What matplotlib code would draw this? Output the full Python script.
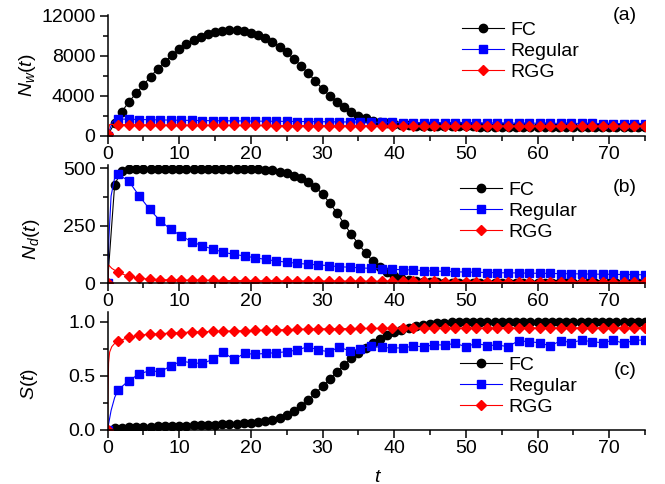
import numpy as np
import matplotlib
matplotlib.use("Agg")
import matplotlib.pyplot as plt
from matplotlib.ticker import MultipleLocator

plt.rcParams['font.family'] = ['Liberation Sans', 'DejaVu Sans']
plt.rcParams['mathtext.fontset'] = 'custom'
plt.rcParams['mathtext.it'] = 'Liberation Sans:italic'
plt.rcParams['mathtext.rm'] = 'Liberation Sans'

# ---------------- data ----------------
# FC: markers at t = 1..75, line starts at t = 0
t_fc = list(range(0, 76))
fc_nw = [0, 1330, 2430, 3430, 4270, 5100, 5930, 6730, 7430, 8100, 8670,
         9170, 9600, 9930, 10200, 10400, 10530, 10600, 10600, 10500, 10330,
         10100, 9770, 9430, 8930, 8370, 7700, 7030, 6270, 5500, 4700,
         4030, 3430, 2870, 2430, 2000, 1770, 1530, 1370, 1270, 1180,
         1110, 1060, 1030, 1000, 990, 980, 975, 970, 965, 960,
         955, 950, 950, 945, 945, 940, 940, 935, 935, 930,
         930, 930, 925, 925, 925, 920, 920, 920, 920, 915,
         915, 915, 915, 910, 910]
fc_nd = [0, 430, 490, 497, 498, 498, 498, 498, 498, 498, 498,
         498, 498, 498, 498, 498, 498, 498, 498, 498, 498,
         497, 495, 492, 486, 478, 468, 457, 442, 420, 388,
         350, 307, 260, 214, 172, 132, 97, 70, 48, 33,
         22, 15, 10, 7, 5, 4, 3, 3, 2, 2,
         2, 2, 1, 1, 1, 1, 1, 1, 1, 1,
         1, 1, 1, 1, 1, 1, 1, 1, 1, 1,
         1, 1, 1, 1, 1]
fc_s = [0, 0.015, 0.02, 0.024, 0.027, 0.029, 0.031, 0.033, 0.035, 0.037, 0.039,
        0.041, 0.043, 0.046, 0.048, 0.05, 0.052, 0.055, 0.059, 0.063, 0.067,
        0.073, 0.082, 0.095, 0.115, 0.142, 0.178, 0.222, 0.275, 0.338, 0.405,
        0.47, 0.538, 0.6, 0.663, 0.712, 0.758, 0.805, 0.843, 0.875, 0.903,
        0.925, 0.945, 0.96, 0.973, 0.982, 0.989, 0.993, 0.996, 0.998, 0.999,
        1.0, 1.0, 1.0, 1.0, 1.0, 1.0, 1.0, 1.0, 1.0, 1.0,
        1.0, 1.0, 1.0, 1.0, 1.0, 1.0, 1.0, 1.0, 1.0, 1.0,
        1.0, 1.0, 1.0, 1.0, 1.0]

# Regular / RGG: marker times (52 samples from 0 to 75)
t_mk = list(np.linspace(0, 75, 52))

reg_nw = [0, 1700, 1680, 1650, 1630, 1610, 1590, 1570, 1560, 1545, 1530,
          1520, 1510, 1500, 1490, 1480, 1470, 1460, 1450, 1440, 1430,
          1420, 1410, 1400, 1390, 1380, 1370, 1360, 1350, 1340, 1335,
          1330, 1325, 1320, 1315, 1310, 1305, 1300, 1295, 1290, 1285,
          1280, 1275, 1270, 1265, 1260, 1255, 1250, 1250, 1245, 1240, 1240]
rgg_nw = [250, 1150, 1130, 1120, 1110, 1100, 1095, 1090, 1085, 1080, 1075,
          1070, 1065, 1060, 1060, 1055, 1050, 1050, 1045, 1045, 1040,
          1040, 1035, 1035, 1030, 1030, 1025, 1025, 1025, 1020, 1020,
          1020, 1015, 1015, 1015, 1010, 1010, 1010, 1010, 1005, 1005,
          1005, 1005, 1000, 1000, 1000, 1000, 1000, 1000, 1000, 1000, 1000]

reg_nd = [0, 474, 446, 381, 322, 272, 235, 206, 181, 163, 149,
          135, 126, 119, 111, 104, 97, 92, 87, 83, 80,
          77, 72, 70, 67, 65, 64, 61, 59, 58, 55,
          53, 52, 50, 49, 48, 47, 46, 45.5, 45, 44,
          43.5, 43, 42, 41.5, 41, 40, 39.5, 39, 38, 37.5, 37]
rgg_nd = [0, 48, 30, 22, 18, 16, 15, 14, 13.5, 13, 12.5,
          12, 12, 11.5, 11, 11, 10.5, 10.5, 10, 10, 10,
          9.5, 9.5, 9, 9, 9, 8.5, 8.5, 8.5, 8, 8,
          8, 7.5, 7.5, 7.5, 7, 7, 7, 7, 6.5, 6.5,
          6.5, 6.5, 6, 6, 6, 6, 6, 5.5, 5.5, 5.5, 5.5]

reg_s = [0, 0.369, 0.455, 0.517, 0.548, 0.538, 0.591, 0.637, 0.62, 0.615, 0.652,
         0.717, 0.652, 0.708, 0.699, 0.708, 0.714, 0.723, 0.739, 0.769, 0.739,
         0.723, 0.765, 0.73, 0.75, 0.773, 0.763, 0.758, 0.758, 0.774, 0.77,
         0.787, 0.785, 0.80, 0.77, 0.80, 0.78, 0.785, 0.77, 0.825, 0.815,
         0.806, 0.776, 0.825, 0.808, 0.83, 0.815, 0.806, 0.83, 0.80, 0.83, 0.83]
rgg_s = [0, 0.82, 0.855, 0.875, 0.885, 0.89, 0.895, 0.90, 0.905, 0.908, 0.91,
         0.913, 0.915, 0.918, 0.92, 0.922, 0.925, 0.927, 0.93, 0.932, 0.934,
         0.935, 0.936, 0.937, 0.938, 0.938, 0.939, 0.939, 0.94, 0.94, 0.94,
         0.941, 0.941, 0.941, 0.942, 0.942, 0.942, 0.943, 0.943, 0.943, 0.943,
         0.944, 0.944, 0.944, 0.944, 0.944, 0.945, 0.945, 0.945, 0.945, 0.945, 0.945]

# early-time line points (before the first marker) for fast transients
reg_nw_early_t = [0.7];  reg_nw_early = [1450]
rgg_nw_early_t = [0.3];  rgg_nw_early = [1150]
reg_nd_early_t = [0.2, 0.5, 1.0];  reg_nd_early = [200, 380, 460]
rgg_nd_early_t = [0.15, 0.6];  rgg_nd_early = [80, 65]
reg_s_early_t = [0.5, 1.0];  reg_s_early = [0.18, 0.3]
rgg_s_early_t = [0.05, 0.15, 0.3, 0.6, 1.0];  rgg_s_early = [0.3, 0.62, 0.72, 0.77, 0.80]

legend_labels = ['FC', 'Regular', 'RGG']
panel_tags = ['(a)', '(b)', '(c)']
x_ticks = [0, 10, 20, 30, 40, 50, 60, 70]

# ---------------- figure ----------------
fig = plt.figure(figsize=(6.65, 4.84), dpi=100)
W, H = 665.0, 484.0
x0, x1 = 107.5, 645.0

def ax_rect(top, bottom):
    return [x0 / W, 1 - bottom / H, (x1 - x0) / W, (bottom - top) / H]

axa = fig.add_axes(ax_rect(15, 136))
axb = fig.add_axes(ax_rect(165, 283.3))
axc = fig.add_axes(ax_rect(312, 430))

FS = 14

def merge(t_first, v_first, t_early, v_early, t_rest, v_rest):
    t = [t_first] + t_early + t_rest
    v = [v_first] + v_early + v_rest
    return t, v

def draw(ax, fc, reg, reg_et, reg_ev, rgg, rgg_et, rgg_ev):
    l1, = ax.plot(t_fc, fc, color='black', lw=0.8, marker='o', ms=6.0,
                  markevery=list(range(1, len(t_fc))))
    tr, vr = merge(t_mk[0], reg[0], reg_et, reg_ev, t_mk[1:], reg[1:])
    n = len(reg_et)
    l2, = ax.plot(tr, vr, color='#0000ff', lw=0.8, marker='s', ms=5.3,
                  markevery=[0] + list(range(n + 1, len(tr))))
    tg, vg = merge(t_mk[0], rgg[0], rgg_et, rgg_ev, t_mk[1:], rgg[1:])
    m = len(rgg_et)
    l3, = ax.plot(tg, vg, color='#ff0000', lw=0.8, marker='D', ms=4.9,
                  markevery=[0] + list(range(m + 1, len(tg))))
    return [l1, l2, l3]

ha = draw(axa, fc_nw, reg_nw, reg_nw_early_t, reg_nw_early, rgg_nw, rgg_nw_early_t, rgg_nw_early)
hb = draw(axb, fc_nd, reg_nd, reg_nd_early_t, reg_nd_early, rgg_nd, rgg_nd_early_t, rgg_nd_early)
hc = draw(axc, fc_s, reg_s, reg_s_early_t, reg_s_early, rgg_s, rgg_s_early_t, rgg_s_early)

axa.set_ylim(0, 12100)
axa.yaxis.set_major_locator(MultipleLocator(4000))
axa.yaxis.set_minor_locator(MultipleLocator(2000))
axb.set_ylim(0, 515)
axb.yaxis.set_major_locator(MultipleLocator(250))
axb.yaxis.set_minor_locator(MultipleLocator(125))
axc.set_ylim(0, 1.09)
axc.set_yticks([0.0, 0.5, 1.0])
axc.set_yticklabels(['0.0', '0.5', '1.0'])
axc.yaxis.set_minor_locator(MultipleLocator(0.25))

legend_pos = [(0.659, 0.945), (0.656, 0.86), (0.656, 0.625)]
tag_pos = [(0.963, 1.0), (0.963, 0.814), (0.963, 0.508)]
for ax, hs, lp, tag, tp in zip([axa, axb, axc], [ha, hb, hc], legend_pos, panel_tags, tag_pos):
    ax.set_xlim(0, 75)
    ax.set_xticks(x_ticks)
    ax.xaxis.set_minor_locator(MultipleLocator(5))
    for s in ['top', 'right']:
        ax.spines[s].set_visible(False)
    for s in ['left', 'bottom']:
        ax.spines[s].set_linewidth(1.1)
    ax.tick_params(which='major', direction='out', length=5.5, width=1.1,
                   labelsize=FS, pad=1.8)
    ax.tick_params(which='minor', direction='out', length=3.3, width=1.1)
    ax.tick_params(axis='y', which='major', pad=3.2)
    ax.legend(hs, legend_labels, loc='upper left', bbox_to_anchor=lp,
              frameon=False, fontsize=FS, borderpad=0, borderaxespad=0,
              handlelength=2.15, handletextpad=0.33, labelspacing=0.17)
    ax.text(tp[0], tp[1], tag, transform=ax.transAxes, ha='center', va='center',
            fontsize=FS)

fig.text(27 / W, 1 - 75 / H, r'$N_w(t)$', rotation=90, ha='center', va='center', fontsize=FS)
fig.text(31 / W, 1 - 239 / H, r'$N_d(t)$', rotation=90, ha='center', va='center', fontsize=FS)
fig.text(30 / W, 1 - 384 / H, r'$S(t)$', rotation=90, ha='center', va='center', fontsize=FS)
fig.text(378 / W, 1 - 477 / H, r'$t$', ha='center', va='center', fontsize=FS)

fig.savefig('out.png', dpi=100)
